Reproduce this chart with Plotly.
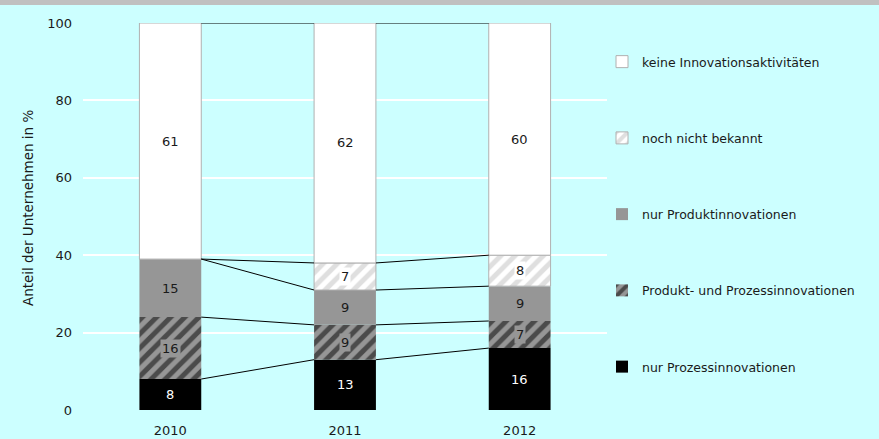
import plotly.graph_objects as go
import numpy as np

years = ["2010", "2011", "2012"]
nur_prozess = [8, 13, 16]
produkt_prozess = [16, 9, 7]
nur_produkt = [15, 9, 9]
noch_nicht = [0, 7, 8]
keine = [61, 62, 60]

series = [
    ("nur Prozessinnovationen", nur_prozess),
    ("Produkt- und Prozessinnovationen", produkt_prozess),
    ("nur Produktinnovationen", nur_produkt),
    ("noch nicht bekannt", noch_nicht),
    ("keine Innovationsaktivitäten", keine),
]

BG = "#CCFFFF"
GRAY = "#969696"
styles = {
    "nur Prozessinnovationen": dict(color="black", line=dict(width=0)),
    "Produkt- und Prozessinnovationen": dict(
        color=GRAY, line=dict(width=0),
        pattern=dict(shape="/", fgcolor="black", bgcolor=GRAY, size=10, solidity=0.5)),
    "nur Produktinnovationen": dict(color=GRAY, line=dict(width=0)),
    "noch nicht bekannt": dict(
        color="white", line=dict(width=1, color="#b0b0b0"),
        pattern=dict(shape="/", fgcolor="#c0c0c0", bgcolor="white", size=10, solidity=0.5)),
    "keine Innovationsaktivitäten": dict(color="white", line=dict(width=1, color="#b0b0b0")),
}
label_style = {
    "nur Prozessinnovationen": ("white", None),
    "Produkt- und Prozessinnovationen": ("#1a1a1a", GRAY),
    "nur Produktinnovationen": ("#1a1a1a", None),
    "noch nicht bekannt": ("#1a1a1a", "white"),
    "keine Innovationsaktivitäten": ("#1a1a1a", None),
}

FONT = "DejaVu Sans, Verdana, sans-serif"
xpos = np.arange(len(years))
bw = 0.354
n_series = len(series)

fig = go.Figure()
annotations = []
base = np.zeros(len(years))
tops = []
for k, (name, vals) in enumerate(series):
    vals = np.array(vals, dtype=float)
    fig.add_trace(go.Bar(
        x=xpos, y=vals, base=base, name=name, width=bw,
        marker=styles[name], legendgroup=name, legendrank=n_series - k,
        hoverinfo="skip",
    ))
    fc, bgc = label_style[name]
    for i, v in enumerate(vals):
        if v > 0:
            annotations.append(dict(
                x=xpos[i], y=base[i] + v / 2, text=str(int(v)), showarrow=False,
                font=dict(family=FONT, size=13, color=fc),
                bgcolor=bgc, borderpad=1, xref="x", yref="y"))
    base = base + vals
    tops.append(base.copy())

# series lines connecting segment tops between adjacent bars
for top in tops:
    for i in range(len(years) - 1):
        fig.add_trace(go.Scatter(
            x=[xpos[i] + bw / 2, xpos[i + 1] - bw / 2], y=[top[i], top[i + 1]],
            mode="lines", line=dict(color="black", width=1), showlegend=False,
            hoverinfo="skip", cliponaxis=False))

PLOT_W = 879 - 82.5 - 271.5
PLOT_H = 439 - 23 - 29

# y-axis title
annotations.append(dict(
    text="Anteil der Unternehmen in %", textangle=-90, showarrow=False,
    xref="paper", yref="paper", x=(28 - 82.5) / PLOT_W, y=(410 - 207.5) / PLOT_H,
    xanchor="center", yanchor="middle",
    font=dict(family=FONT, size=13.5, color="#1a1a1a")))

fig.update_layout(
    width=879, height=439,
    paper_bgcolor=BG, plot_bgcolor=BG,
    margin=dict(l=82.5, r=271.5, t=23, b=29),
    barmode="overlay",
    font=dict(family=FONT, size=13, color="#1a1a1a"),
    showlegend=True,
    legend=dict(
        x=1.0 - 5 / PLOT_W, xanchor="left", y=1.0 - 24 / PLOT_H, yanchor="top",
        traceorder="grouped", tracegroupgap=57,
        font=dict(family=FONT, size=12.5, color="#1a1a1a"),
        bgcolor="rgba(0,0,0,0)", itemwidth=30,
    ),
    annotations=annotations,
    shapes=[dict(type="rect", xref="paper", yref="paper", x0=-0.2, x1=1.6,
                 y0=(PLOT_H + 23 - 5) / PLOT_H, y1=(PLOT_H + 23 + 2) / PLOT_H,
                 fillcolor="#C0C0C0", line=dict(width=0), layer="above")],
)
fig.update_xaxes(
    range=[-0.5, 2.5], tickvals=xpos, ticktext=years, showgrid=False,
    zeroline=False, showline=False, ticks="", ticklabelstandoff=11,
    automargin=False,
    tickfont=dict(family=FONT, size=13, color="#1a1a1a"),
)
fig.update_yaxes(
    range=[0, 100], dtick=20, showgrid=True, gridcolor="white", gridwidth=1.5,
    zeroline=False, showline=False, ticks="", ticklabelstandoff=10,
    automargin=False,
    tickfont=dict(family=FONT, size=13, color="#1a1a1a"),
)

fig.write_html(
    "out.html",
    config={"displayModeBar": False},
    post_script="document.body.style.margin='0px';document.body.style.background='#CCFFFF';",
)
